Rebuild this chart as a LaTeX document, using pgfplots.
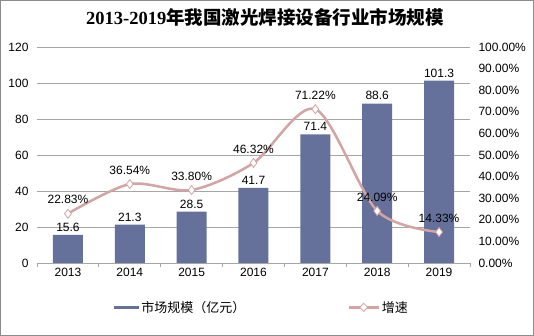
\documentclass[border=0pt]{standalone}
\usepackage{pgfplots}
\pgfplotsset{compat=1.18}
\usepackage{fontspec}
\setmainfont{Liberation Sans}
\newfontfamily\cjk{Noto Sans CJK SC}
\newfontfamily\titleserif{Liberation Serif}
\definecolor{barc}{HTML}{65719B}
\definecolor{linec}{HTML}{D3A4A4}
\definecolor{gridc}{HTML}{A6A6A6}
\definecolor{framec}{HTML}{8C8C8C}

\begin{document}
\begin{tikzpicture}
\fill[white] (-37bp,-73bp) rectangle (497bp,263bp);
\draw[framec, line width=1bp] (-36bp,-72bp) rectangle (496bp,262bp);
\node[font=\fontsize{18.5bp}{18.5bp}\selectfont\bfseries] at (228bp,246bp)
  {\titleserif 2013-2019\cjk 年我国激光焊接设备行业市场规模};

\begin{axis}[
  at={(0,0)}, anchor=south west, scale only axis,
  width=433bp, height=216bp,
  xmin=-0.5, xmax=6.5, ymin=0, ymax=120,
  ytick={0,20,...,120},
  xtick={0,...,6}, xticklabels={2013,2014,2015,2016,2017,2018,2019},
  minor xtick={-0.5,0.5,...,6.5},
  axis lines*=left,
  x axis line style={gridc, line width=0.75bp},
  y axis line style={draw=none},
  tick align=outside,
  major tick length=0pt,
  minor tick length=4bp,
  minor tick style={gridc, line width=0.75bp},
  ymajorgrids,
  major grid style={gridc, line width=0.75bp},
  ticklabel style={font=\fontsize{12bp}{14bp}\selectfont},
  /pgf/number format/assume math mode=true,
  yticklabel style={xshift=-5bp},
  xticklabel style={yshift=-2bp},
  ybar, bar width=30bp,
  nodes near coords,
  every node near coord/.append style={font=\fontsize{12bp}{14bp}\selectfont, black},
  legend columns=2,
  legend style={at={(0.52,-0.205)}, anchor=center, draw=none, fill=none,
    font=\fontsize{13bp}{13bp}\selectfont\cjk,
    /tikz/every even column/.append style={column sep=100bp}},
]
\addplot[fill=barc, draw=none,
  legend image code/.code={\fill[barc] (0bp,-1.5bp) rectangle (25bp,1.5bp);}]
  coordinates {(0,15.6) (1,21.3) (2,28.5) (3,41.7) (4,71.4) (5,88.6) (6,101.3)};
\addlegendentry{市场规模（亿元）}
\addlegendimage{legend image code/.code={
  \draw[linec, line width=2.5bp] (0bp,0bp) -- (30bp,0bp);
  \draw[linec, fill=white, line width=0.8bp] (11bp,0bp) -- (15bp,4bp) -- (19bp,0bp) -- (15bp,-4bp) -- cycle;}}
\addlegendentry{增速}
\end{axis}

\begin{axis}[
  at={(0,0)}, anchor=south west, scale only axis,
  width=433bp, height=216bp,
  xmin=-0.5, xmax=6.5, ymin=0, ymax=100,
  ytick={0,10,...,100},
  axis y line*=right, axis x line=none,
  y axis line style={draw=none},
  major tick length=0pt,
  yticklabel={\pgfmathprintnumber[fixed,fixed zerofill,precision=2]{\tick}\%},
  ticklabel style={font=\fontsize{12bp}{14bp}\selectfont},
  /pgf/number format/assume math mode=true,
  yticklabel style={xshift=5bp},
  nodes near coords={\pgfmathprintnumber[fixed,fixed zerofill,precision=2]{\pgfplotspointmeta}\%},
  every node near coord/.append style={font=\fontsize{12bp}{14bp}\selectfont, black, yshift=6bp},
]
\addplot[linec, line width=2.5bp, smooth, mark=diamond*, mark size=4.5bp,
  mark options={fill=white, draw=linec, line width=0.8bp}]
  coordinates {(0,22.83) (1,36.54) (2,33.80) (3,46.32) (4,71.22) (5,24.09) (6,14.33)};
\end{axis}
\pgfresetboundingbox
\path (-37bp,-73bp) rectangle (497bp,263bp);
\end{tikzpicture}
\end{document}
